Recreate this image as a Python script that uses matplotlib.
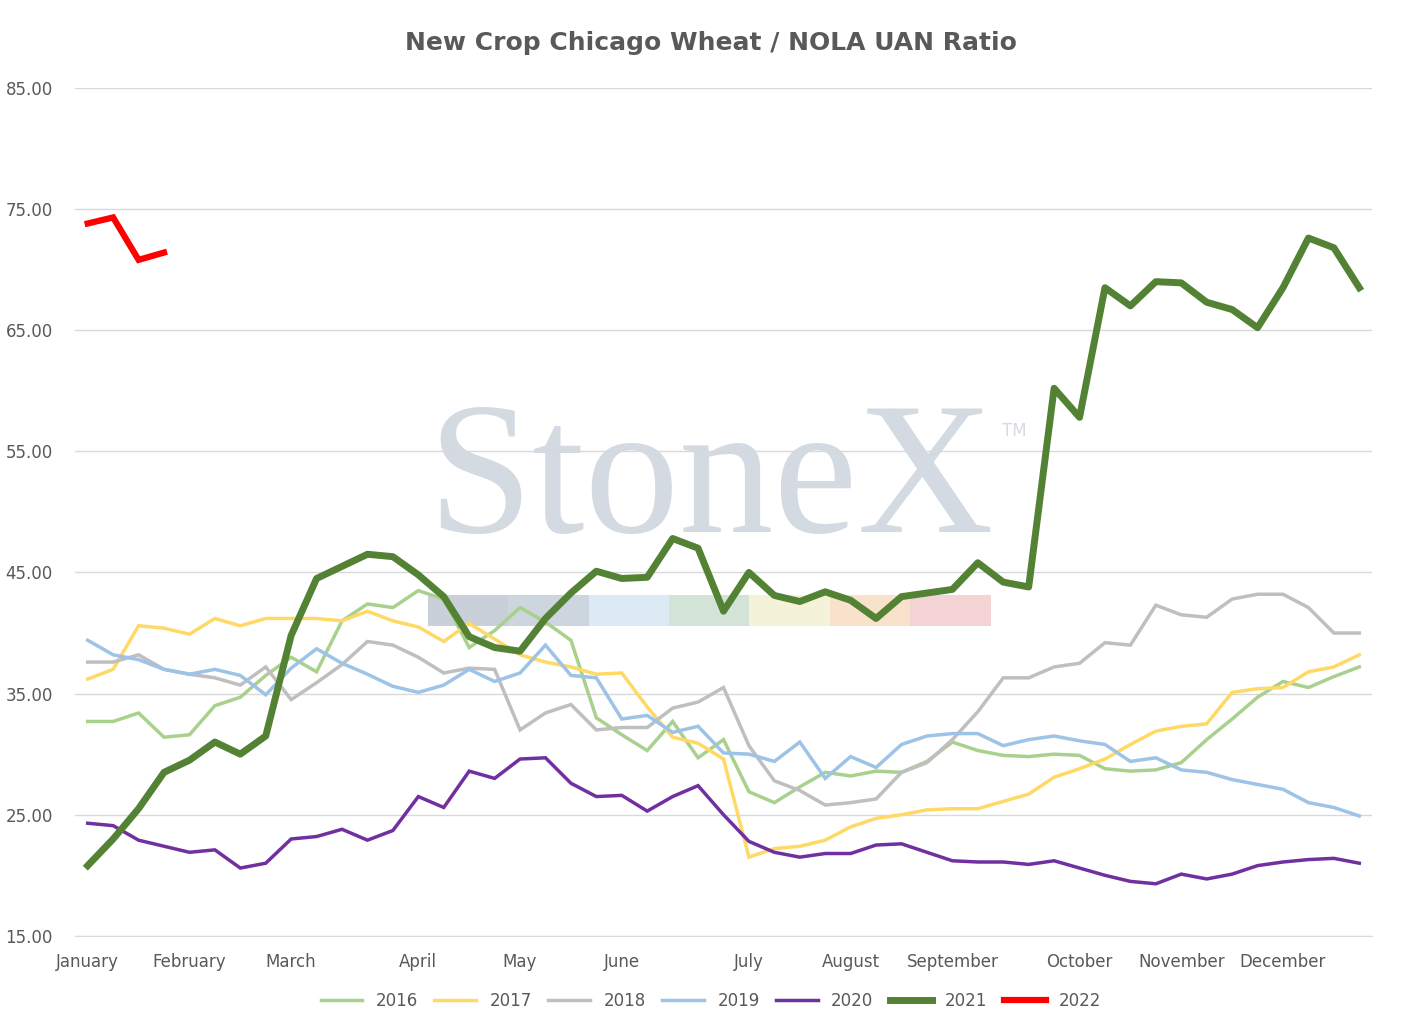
import matplotlib as mpl
mpl.use('Agg')
import matplotlib.pyplot as plt
from matplotlib.patches import Rectangle

month_labels = ["January", "February", "March", "April", "May", "June", "July",
                "August", "September", "October", "November", "December"]
month_idx = [0, 4, 8, 13, 17, 21, 26, 30, 34, 39, 43, 47]

s2016 = [32.7, 32.7, 33.4, 31.4, 31.6, 34, 34.7, 36.5, 38, 36.8, 41, 42.4, 42.1, 43.5, 42.8, 38.8, 40.2,
         42.1, 40.9, 39.4, 33, 31.6, 30.3, 32.7, 29.7, 31.2, 26.9, 26, 27.3, 28.5, 28.2, 28.6, 28.5, 29.4,
         31, 30.3, 29.9, 29.8, 30, 29.9, 28.8, 28.6, 28.7, 29.3, 31.2, 32.9, 34.7, 36, 35.5, 36.4, 37.2]
s2017 = [36.2, 37, 40.6, 40.4, 39.9, 41.2, 40.6, 41.2, 41.2, 41.2, 41, 41.8, 41, 40.5, 39.3, 40.8, 39.5,
         38.2, 37.6, 37.2, 36.6, 36.7, 33.9, 31.4, 30.9, 29.6, 21.5, 22.2, 22.4, 22.9, 24, 24.7, 25, 25.4,
         25.5, 25.5, 26.1, 26.7, 28.1, 28.8, 29.6, 30.8, 31.9, 32.3, 32.5, 35.1, 35.4, 35.5, 36.8, 37.2, 38.2]
s2018 = [37.6, 37.6, 38.2, 37, 36.6, 36.3, 35.7, 37.2, 34.5, 35.9, 37.4, 39.3, 39, 38, 36.7, 37.1, 37,
         32, 33.4, 34.1, 32, 32.2, 32.2, 33.8, 34.3, 35.5, 30.7, 27.8, 27, 25.8, 26, 26.3, 28.5, 29.3,
         31.2, 33.5, 36.3, 36.3, 37.2, 37.5, 39.2, 39, 42.3, 41.5, 41.3, 42.8, 43.2, 43.2, 42.1, 40, 40]
s2019 = [39.4, 38.2, 37.8, 37, 36.6, 37, 36.5, 34.9, 37.1, 38.7, 37.5, 36.6, 35.6, 35.1, 35.7, 37, 36,
         36.7, 39, 36.5, 36.3, 32.9, 33.2, 31.8, 32.3, 30.1, 30, 29.4, 31, 28, 29.8, 28.9, 30.8, 31.5,
         31.7, 31.7, 30.7, 31.2, 31.5, 31.1, 30.8, 29.4, 29.7, 28.7, 28.5, 27.9, 27.5, 27.1, 26, 25.6, 24.9]
s2020 = [24.3, 24.1, 22.9, 22.4, 21.9, 22.1, 20.6, 21, 23, 23.2, 23.8, 22.9, 23.7, 26.5, 25.6, 28.6, 28,
         29.6, 29.7, 27.6, 26.5, 26.6, 25.3, 26.5, 27.4, 25, 22.8, 21.9, 21.5, 21.8, 21.8, 22.5, 22.6, 21.9,
         21.2, 21.1, 21.1, 20.9, 21.2, 20.6, 20, 19.5, 19.3, 20.1, 19.7, 20.1, 20.8, 21.1, 21.3, 21.4, 21]
s2021 = [20.8, 23, 25.5, 28.5, 29.5, 31, 30, 31.5, 39.8, 44.5, 45.5, 46.5, 46.3, 44.8, 43, 39.7, 38.8,
         38.5, 41.2, 43.3, 45.1, 44.5, 44.6, 47.8, 47, 41.8, 45, 43.1, 42.6, 43.4, 42.7, 41.2, 43, 43.3,
         43.6, 45.8, 44.2, 43.8, 60.2, 57.8, 68.5, 67, 69, 68.9, 67.3, 66.7, 65.2, 68.5, 72.6, 71.8, 68.5]
s2022 = [73.8, 74.3, 70.8, 71.4]

series = [("2016", s2016, "#a9d18e", 2.5), ("2017", s2017, "#ffd966", 2.5),
          ("2018", s2018, "#bfbfbf", 2.5), ("2019", s2019, "#9dc3e6", 2.5),
          ("2020", s2020, "#7030a0", 2.5), ("2021", s2021, "#548235", 5),
          ("2022", s2022, "#ff0000", 4.5)]

fig = plt.figure(figsize=(14.22, 10.33), dpi=100)
ax = fig.add_axes([75/1422, 0.094, 1297/1422, 0.821])

# watermark
ax.text(0.49, 0.53, "StoneX", transform=ax.transAxes, ha='center', va='center',
        fontsize=136, family='Liberation Serif', color='#d4dae2', zorder=0)
ax.text(0.715, 0.59, "TM", transform=ax.transAxes, fontsize=12, color='#d4dae2', zorder=0)
wm_cols = ['#c9d0d9', '#cdd5de', '#dde9f5', '#d3e3d8', '#f4f2d8', '#f8e2cc', '#f3d3d3']
for k, c in enumerate(wm_cols):
    ax.add_patch(Rectangle((0.272 + k * 0.062, 0.365), 0.062, 0.037, transform=ax.transAxes,
                           color=c, zorder=0, lw=0))

for name, vals, col, lw in series:
    ax.plot(range(len(vals)), vals, color=col, lw=lw, label=name, zorder=3,
            solid_joinstyle='miter' if name != "2021" else 'round')

ax.set_xlim(-0.5, 50.5)
ax.set_ylim(15, 85)
ax.set_yticks(range(15, 86, 10))
ax.set_yticklabels(["%.2f" % v for v in range(15, 86, 10)])
ax.set_xticks(month_idx)
ax.set_xticklabels(month_labels)
ax.grid(axis='y', color='#d9d9d9', lw=1)
ax.set_axisbelow(True)
for sp in ['top', 'right', 'left']:
    ax.spines[sp].set_visible(False)
ax.spines['bottom'].set_color('#d9d9d9')
ax.tick_params(length=0, labelsize=12, labelcolor='#595959', pad=12)
ax.tick_params(axis='y', pad=16)

fig.suptitle("New Crop Chicago Wheat / NOLA UAN Ratio", y=0.97, fontsize=18, fontweight='bold',
             color='#595959')
fig.legend(loc='lower center', ncol=7, frameon=False, fontsize=12, bbox_to_anchor=(0.5, 0.008),
           handlelength=2.5, columnspacing=1.0, labelcolor='#595959')
fig.savefig('out.png')
